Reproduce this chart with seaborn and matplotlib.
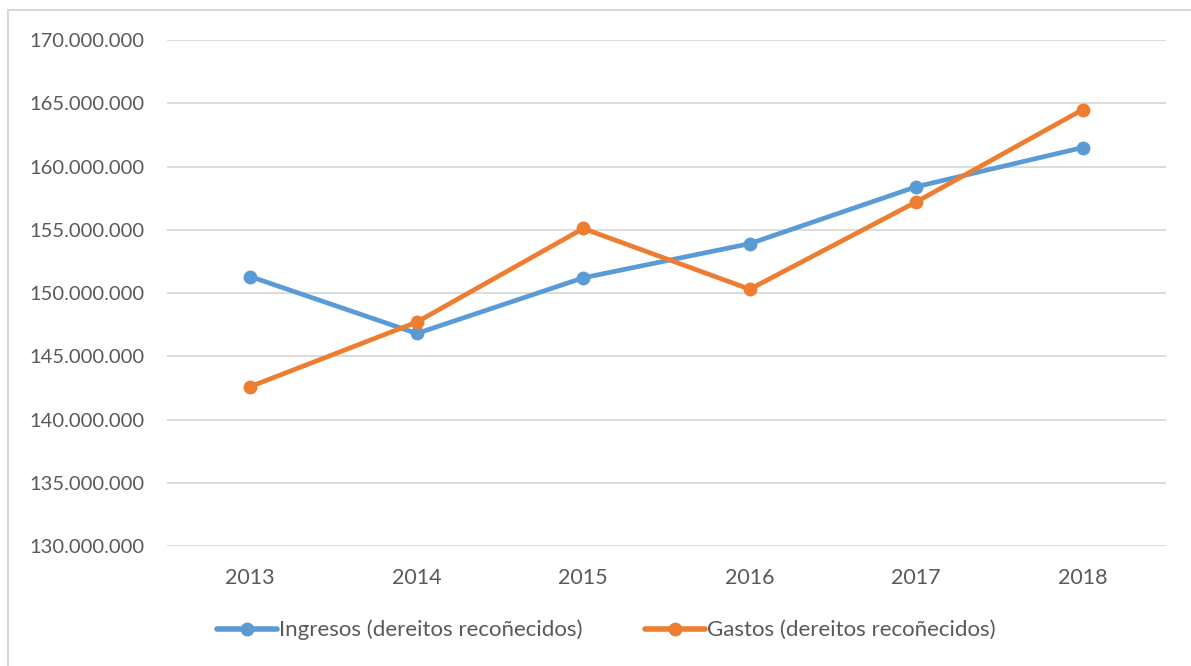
import matplotlib
matplotlib.use("Agg")
import matplotlib.pyplot as plt
import seaborn as sns
import pandas as pd
from matplotlib.patches import Rectangle
from matplotlib.ticker import FuncFormatter

years = [2013, 2014, 2015, 2016, 2017, 2018]
ingresos = [151.3e6, 146.8e6, 151.2e6, 153.9e6, 158.4e6, 161.5e6]
gastos = [142.6e6, 147.7e6, 155.1e6, 150.3e6, 157.2e6, 164.5e6]
series_names = ["Ingresos (dereitos recoñecidos)", "Gastos (dereitos recoñecidos)"]
colors = ["#5B9BD5", "#ED7D31"]

df = pd.DataFrame({
    "year": years * 2,
    "value": ingresos + gastos,
    "serie": [series_names[0]] * len(years) + [series_names[1]] * len(years),
})

sns.set_theme(style="white")
plt.rcParams["font.family"] = ["Lato", "DejaVu Sans"]

fig = plt.figure(figsize=(11.91, 6.66), dpi=100)
ax = fig.add_axes([167 / 1191, 1 - 546 / 666, (1166 - 167) / 1191, (546 - 40) / 666])

# outer border
fig.patches.append(Rectangle((8 / 1191, -0.05), 1.1, 1 - 10 / 666 + 0.05,
                             transform=fig.transFigure, fill=False,
                             edgecolor="#D9D9D9", linewidth=1.5))

sns.lineplot(data=df, x="year", y="value", hue="serie", palette=colors,
             marker="o", markersize=10, markeredgewidth=0, linewidth=3.4,
             ax=ax, legend=True)

ax.set_xlim(2012.5, 2018.5)
ax.set_ylim(130e6, 170e6)
ax.set_yticks([130e6 + 5e6 * i for i in range(9)])
ax.set_xticks(years)
ax.yaxis.set_major_formatter(FuncFormatter(lambda v, p: f"{int(round(v)):,}".replace(",", ".")))
ax.grid(axis="y", color="#D9D9D9", linewidth=1.3)
ax.grid(axis="x", visible=False)
for s in ax.spines.values():
    s.set_visible(False)
ax.tick_params(axis="both", length=0, labelcolor="#595959")
ax.tick_params(axis="y", pad=16, labelsize=14.5)
ax.tick_params(axis="x", pad=16, labelsize=15.5)
ax.set_xlabel("")
ax.set_ylabel("")

leg = ax.legend(loc="center", bbox_to_anchor=(606 / 1191, (666 - 630) / 666), bbox_transform=fig.transFigure,
                ncol=2, frameon=False, fontsize=16, handlelength=2.7, handletextpad=0.1,
                columnspacing=2.8)
for line in leg.get_lines():
    line.set_linewidth(4)
for t in leg.get_texts():
    t.set_color("#595959")

fig.savefig("out.png", dpi=100)
